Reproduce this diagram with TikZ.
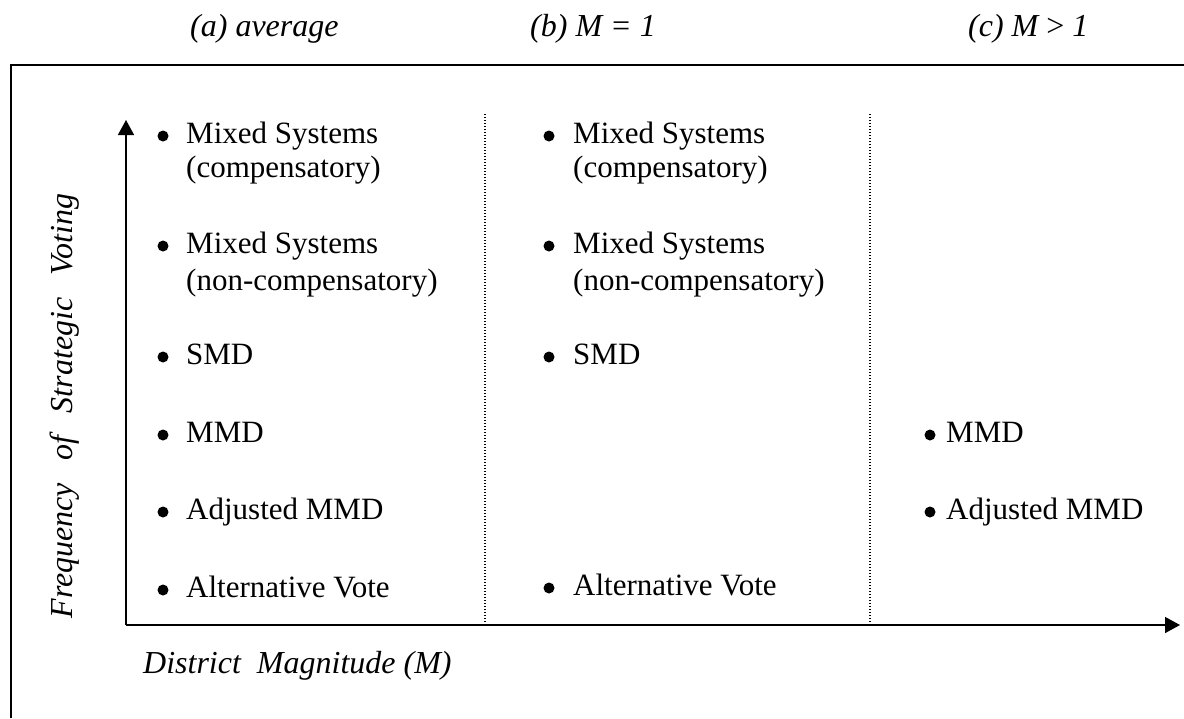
\documentclass[tikz,border=0pt]{standalone}
\usepackage{fontspec}
\setmainfont{Liberation Serif}
\usetikzlibrary{arrows.meta}
\tikzset{
  item/.style={anchor=base west, inner sep=0pt, font=\fontsize{31}{35}\selectfont},
  bul/.style={circle, fill=black, inner sep=0pt, minimum size=11pt},
  ttl/.style={anchor=base west, inner sep=0pt, font=\fontsize{32}{36}\selectfont\itshape},
  axis/.style={line width=1.5pt, -{Triangle[length=15pt,width=16pt]}},
  frame/.style={line width=2.5pt},
  sep/.style={line width=1.2pt, dash pattern=on 1.2pt off 1.8pt}
}
\begin{document}
\begin{tikzpicture}[x=1pt,y=-1pt]
\useasboundingbox (0,0) rectangle (1184,718);
% titles
\node[ttl] (ta) at (190,36) {(a) average};
\node[ttl] (tb) at (530,36) {(b) M = 1};
\node[ttl] (tc) at (968,36) {(c) M {\upshape\textgreater} 1};
% frame
\coordinate (f2) at (1184,65);
\coordinate (fc) at (11,65);
\coordinate (f3) at (11,718);
\draw[frame] (f3) -- (fc) -- (f2);
% axes
\coordinate (o) at (126,625);
\coordinate (ytip) at (126,120);
\coordinate (xtip) at (1180,625);
\draw[axis] (o) -- (ytip);
\draw[axis] (o) -- (xtip);
% separators
\coordinate (s1t) at (485,114);
\coordinate (s1b) at (485,625);
\coordinate (s2t) at (870,114);
\coordinate (s2b) at (870,625);
\draw[sep] (s1t) -- (s1b);
\draw[sep] (s2t) -- (s2b);
% axis labels
\node[ttl] (xl) at (143,673) {District\hspace{0.5em}Magnitude (M)};
\node[ttl, anchor=base, rotate=90] (yl) at (72,406) {Frequency\hspace{0.7em}of\hspace{0.7em}Strategic\hspace{0.7em}Voting};
% column a
\foreach \n/\y/\t in {a1/143/Mixed Systems, a2/253/Mixed Systems, a3/364/SMD, a4/442/MMD, a5/519/Adjusted MMD, a6/597/Alternative Vote}{
  \node[bul] (b\n) at (163,\y-7) {};
  \node[item] (\n) at (186,\y) {\t};
}
\node[item] (a1x) at (186,177) {(compensatory)};
\node[item] (a2x) at (186,290) {(non-compensatory)};
% column b
\foreach \n/\y/\t in {c1/143/Mixed Systems, c2/253/Mixed Systems, c3/364/SMD, c6/595/Alternative Vote}{
  \node[bul] (b\n) at (549,\y-7) {};
  \node[item] (\n) at (573,\y) {\t};
}
\node[item] (c1x) at (573,177) {(compensatory)};
\node[item] (c2x) at (573,290) {(non-compensatory)};
% column c
\foreach \n/\y/\t in {d4/442/MMD, d5/519/Adjusted MMD}{
  \node[bul] (b\n) at (930,\y-7) {};
  \node[item] (\n) at (946,\y) {\t};
}
\end{tikzpicture}
\end{document}
